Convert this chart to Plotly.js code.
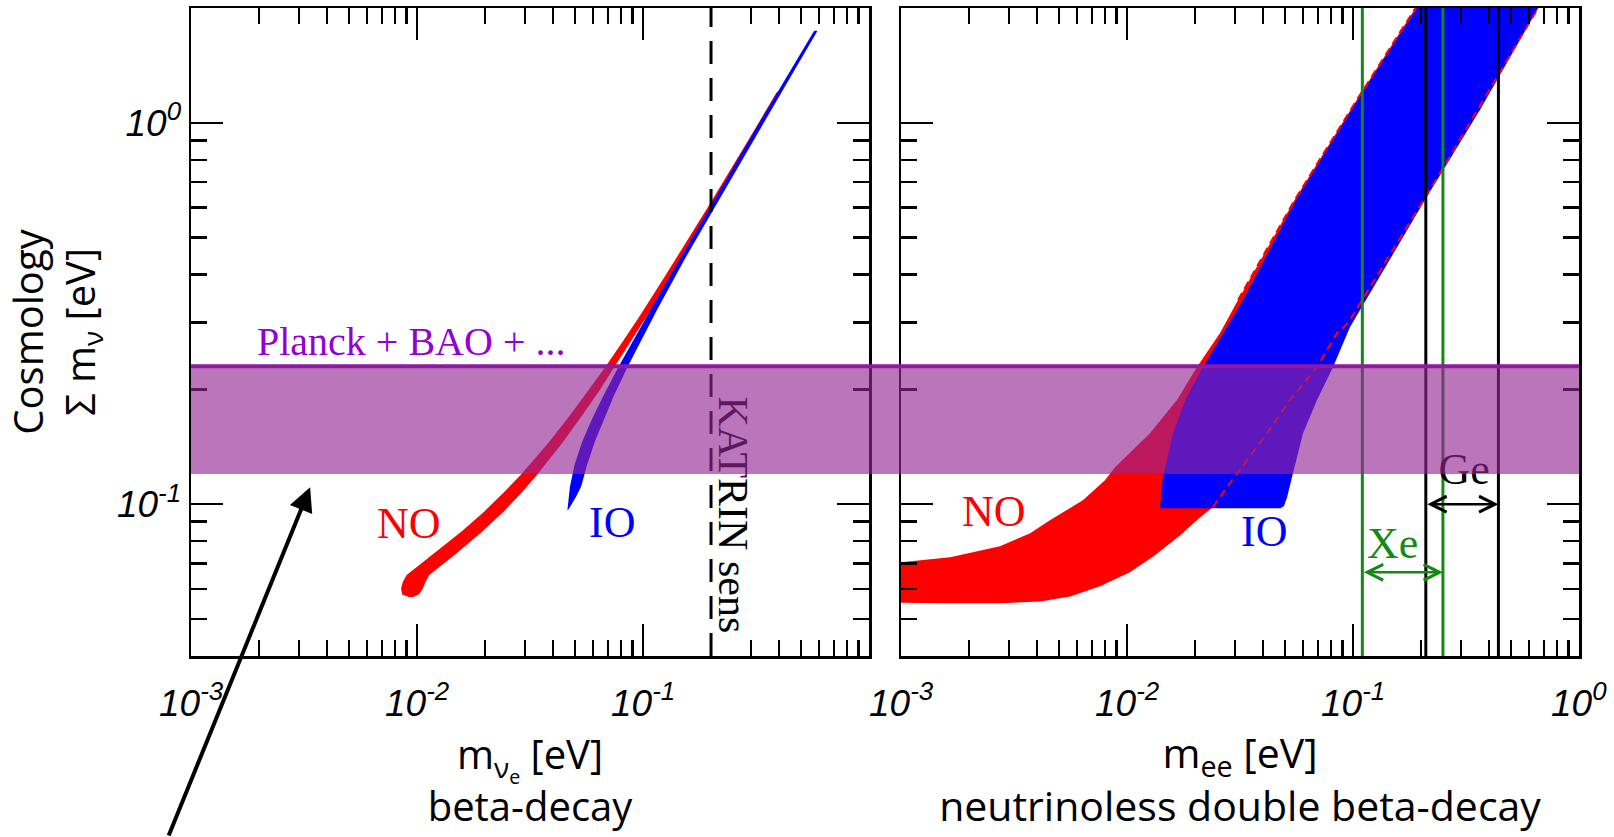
<!DOCTYPE html>
<html><head><meta charset="utf-8">
<script src="https://cdn.plot.ly/plotly-3.0.1.min.js"></script>
<style>html,body{margin:0;padding:0;background:#fff;} #chart{width:1614px;height:837px;}</style>
</head><body><div id="chart"></div>
<script>
// ---------- data ----------
// beta-decay panel: effective electron-neutrino mass (eV) vs sum of masses (eV)
const NO_beta_sum = [0.0571, 0.0580, 0.0600, 0.0625, 0.0652, 0.0695, 0.0742, 0.0845, 0.0956, 0.1073, 0.1195, 0.1449, 0.1715, 0.1987, 0.2266, 0.2691, 0.3122, 0.3996, 0.6064, 0.9043, 1.2040];
const NO_beta_mlo = [0.0092, 0.00860, 0.00850, 0.00865, 0.00900, 0.01030, 0.01193, 0.01565, 0.01981, 0.02419, 0.02881, 0.03817, 0.04774, 0.05744, 0.06727, 0.08203, 0.09687, 0.12626, 0.1953, 0.2934, 0.3910];
const NO_beta_mhi = [0.0096, 0.0102, 0.0106, 0.0109, 0.01133, 0.01297, 0.01488, 0.01934, 0.02415, 0.02908, 0.03400, 0.04402, 0.05406, 0.06415, 0.07409, 0.08912, 0.10427, 0.13467, 0.2054, 0.3072, 0.4094];

const IO_beta_sum = [0.0965, 0.0990, 0.1040, 0.1111, 0.1269, 0.1459, 0.1674, 0.1908, 0.2285, 0.3232, 0.4370, 0.6121, 1.0033, 1.7442];
const IO_beta_mlo = [0.0463, 0.0465, 0.0468, 0.0475, 0.0498, 0.0538, 0.0595, 0.0663, 0.0777, 0.1078, 0.1446, 0.2010, 0.3280, 0.5720];
const IO_beta_mhi = [0.0466, 0.0480, 0.0503, 0.0532, 0.0566, 0.0612, 0.0671, 0.0738, 0.0853, 0.1153, 0.1522, 0.2112, 0.3434, 0.5920];

// neutrinoless double beta-decay panel: m_ee (eV) vs sum of masses (eV)
const NO_dbd_up_mee = [0.0008, 0.00100, 0.00165, 0.00274, 0.00373, 0.00456, 0.00638, 0.00799, 0.00885, 0.01264, 0.01664, 0.0204, 0.0258, 0.0310, 0.0552, 0.1040, 0.189, 0.206];
const NO_dbd_up_sum = [0.0702, 0.0704, 0.0726, 0.0776, 0.0839, 0.0908, 0.1024, 0.1156, 0.125, 0.1535, 0.1875, 0.229, 0.281, 0.343, 0.628, 1.149, 2.0, 2.2];
const NO_dbd_lo_mee = [0.0008, 0.001, 0.00165, 0.00274, 0.00412, 0.0056, 0.0076, 0.0103, 0.0133, 0.0172, 0.0211, 0.0240, 0.0277, 0.0416, 0.0526, 0.0693, 0.0850, 0.0951, 0.252, 0.659, 0.72];
const NO_dbd_lo_sum = [0.0553, 0.0553, 0.0550, 0.0550, 0.0556, 0.0573, 0.0609, 0.0663, 0.0735, 0.0829, 0.0925, 0.0982, 0.1109, 0.1535, 0.1875, 0.229, 0.281, 0.2986, 0.766, 2.0, 2.2];

const IO_dbd_left_mee = [0.0140, 0.01442, 0.0160, 0.0181, 0.0217, 0.0266, 0.0326, 0.0560, 0.1050, 0.192, 0.21];
const IO_dbd_left_sum = [0.0976, 0.1177, 0.1535, 0.1875, 0.229, 0.281, 0.343, 0.628, 1.149, 2.0, 2.2];
const IO_dbd_right_mee = [0.0478, 0.0495, 0.0511, 0.0537, 0.0601, 0.0693, 0.0816, 0.0904, 0.0970, 0.2083, 0.256, 0.365, 0.659, 0.72];
const IO_dbd_right_sum = [0.0976, 0.0990, 0.1043, 0.1177, 0.1535, 0.1875, 0.229, 0.265, 0.2915, 0.628, 0.766, 1.082, 2.0, 2.2];

// NO boundaries are drawn dashed where they run over the IO region
const NO_dash_up_from = 0.30;
const NO_dash_lo_from = 0.098;

// limits / sensitivities
const KATRIN_sens = 0.2;           // eV
const Xe_limits = [0.11, 0.25];    // eV
const Ge_limits = [0.21, 0.44];    // eV
const Cosmo_band = [0.12, 0.23];   // eV
const Xe_arrow_sum = 0.0663;
const Ge_arrow_sum = 0.100;

// axes
const X_RANGE = [0.001, 1];
const Y_RANGE = [0.04, 2.0];
const X_TICKS_LEFT = [0.001, 0.01, 0.1];
const X_TEXT_LEFT = ['10<sup>-3</sup>', '10<sup>-2</sup>', '10<sup>-1</sup>'];
const X_TICKS_RIGHT = [0.001, 0.01, 0.1, 1];
const X_TEXT_RIGHT = ['10<sup>-3</sup>', '10<sup>-2</sup>', '10<sup>-1</sup>', '10<sup>0</sup>'];
const Y_TICKS = [0.1, 1];
const Y_TEXT = ['10<sup>-1</sup>', '10<sup>0</sup>'];
const DIGITS = [2, 3, 4, 5, 6, 7, 8, 9];

// ---------- build ----------
const RED = '#ff0000', BLUE = '#0000ff', GREEN = '#138a13';
const L = Math.log10;
function minorTicks(lo, hi) {
  const out = [];
  for (let e = Math.floor(L(lo)); e <= Math.ceil(L(hi)); e++)
    DIGITS.forEach(d => { const v = d * Math.pow(10, e); if (v > lo && v < hi) out.push(v); });
  return out;
}
function poly(xa, ya, xb, yb) {
  return { x: xa.concat(xb.slice().reverse()), y: ya.concat(yb.slice().reverse()) };
}
function part(xs, ys, from) {
  const x = [], y = [];
  ys.forEach((v, i) => { if (v >= from) { x.push(xs[i]); y.push(v); } });
  return { x, y };
}

const pNOb = poly(NO_beta_mlo, NO_beta_sum, NO_beta_mhi, NO_beta_sum);
const pIOb = poly(IO_beta_mlo, IO_beta_sum, IO_beta_mhi, IO_beta_sum);
const pNOd = poly(NO_dbd_up_mee, NO_dbd_up_sum, NO_dbd_lo_mee, NO_dbd_lo_sum);
const pIOd = poly(IO_dbd_left_mee, IO_dbd_left_sum, IO_dbd_right_mee, IO_dbd_right_sum);
const dUp = part(NO_dbd_up_mee, NO_dbd_up_sum, NO_dash_up_from);
const dLo = part(NO_dbd_lo_mee, NO_dbd_lo_sum, NO_dash_lo_from);

const fillT = (p, col, xa, ya) => ({ type: 'scatter', mode: 'lines', x: p.x, y: p.y, fill: 'toself', fillcolor: col, line: { width: 0, color: col }, xaxis: xa, yaxis: ya, hoverinfo: 'skip', showlegend: false });

const traces = [
  fillT(pNOb, RED, 'x', 'y'),
  fillT(pIOb, BLUE, 'x', 'y'),
  { type: 'scatter', mode: 'lines', x: [KATRIN_sens, KATRIN_sens], y: Y_RANGE, line: { color: 'black', width: 3, dash: '23px,14px' }, xaxis: 'x', yaxis: 'y', showlegend: false },
  fillT(pNOd, RED, 'x2', 'y2'),
  fillT(pIOd, BLUE, 'x2', 'y2'),
  { type: 'scatter', mode: 'lines', x: dUp.x, y: dUp.y, line: { color: RED, width: 2, dash: '8px,5px' }, xaxis: 'x2', yaxis: 'y2', showlegend: false },
  { type: 'scatter', mode: 'lines', x: dLo.x, y: dLo.y, line: { color: RED, width: 2, dash: '8px,5px' }, xaxis: 'x2', yaxis: 'y2', showlegend: false },
  { type: 'scatter', mode: 'lines', x: [Xe_limits[0], Xe_limits[0], null, Xe_limits[1], Xe_limits[1]], y: [Y_RANGE[0], Y_RANGE[1], null, Y_RANGE[0], Y_RANGE[1]], line: { color: GREEN, width: 3 }, xaxis: 'x2', yaxis: 'y2', showlegend: false },
  { type: 'scatter', mode: 'lines', x: [Ge_limits[0], Ge_limits[0], null, Ge_limits[1], Ge_limits[1]], y: [Y_RANGE[0], Y_RANGE[1], null, Y_RANGE[0], Y_RANGE[1]], line: { color: 'black', width: 3 }, xaxis: 'x2', yaxis: 'y2', showlegend: false },
  { type: 'scatter', mode: 'text', x: [Math.sqrt(Ge_limits[0] * Ge_limits[1]) * 1.02], y: [0.121], text: ['Ge'], textposition: 'middle center', textfont: { family: 'Liberation Serif', size: 44, color: 'black' }, xaxis: 'x2', yaxis: 'y2', showlegend: false }
];

const tickFont = { family: 'Liberation Sans', size: 37, color: 'black', style: 'italic' };
const titleFont = { family: 'Open Sans', size: 40, color: 'black' };
function ax(extra) {
  return Object.assign({
    type: 'log', showline: true, linewidth: 2.5, linecolor: 'black', mirror: 'ticks',
    ticks: 'inside', ticklen: 32, tickwidth: 2.5, tickcolor: 'black',
    showgrid: false, zeroline: false, tickmode: 'array', tickfont: tickFont,
  }, extra);
}
const xMinor = { ticks: 'inside', ticklen: 16, tickwidth: 2.5, tickcolor: 'black', tickmode: 'array', tickvals: minorTicks(X_RANGE[0], X_RANGE[1]), showgrid: false };
const yMinor = { ticks: 'inside', ticklen: 16, tickwidth: 2.5, tickcolor: 'black', tickmode: 'array', tickvals: minorTicks(Y_RANGE[0], Y_RANGE[1]), showgrid: false };

const W = 1614, H = 837, ML = 191, MR = 35, MT = 8, MB = 181;
const PW = W - ML - MR;
const leftEnd = (869 - ML) / PW, rightStart = (901 - ML) / PW;

// x tick labels placed below the frame
const xLabelAnn = (vals, texts, xref) => vals.map((v, i) => ({
  xref: xref, yref: 'paper', x: L(v), y: 0, xanchor: 'center', yanchor: 'middle', yshift: -44,
  showarrow: false, text: texts[i], font: tickFont
}));

const layout = {
  width: W, height: H, margin: { l: ML, r: MR, t: MT, b: MB, pad: 0 },
  paper_bgcolor: 'white', plot_bgcolor: 'white', showlegend: false, hovermode: false,
  xaxis: ax({ domain: [0, leftEnd], anchor: 'y', range: [L(X_RANGE[0]), L(X_RANGE[1])], tickvals: X_TICKS_LEFT, ticktext: X_TEXT_LEFT, showticklabels: false, minor: xMinor,
    title: { text: 'm<sub>ν<sub>e</sub></sub> [eV]<br>beta-decay', font: titleFont, standoff: 84 } }),
  xaxis2: ax({ domain: [rightStart, 1], anchor: 'y2', range: [L(X_RANGE[0]), L(X_RANGE[1])], tickvals: X_TICKS_RIGHT, ticktext: X_TEXT_RIGHT, showticklabels: false, minor: xMinor,
    title: { text: 'm<sub>ee</sub> [eV]<br>neutrinoless double beta-decay', font: { family: 'Open Sans', size: 41, color: 'black' }, standoff: 82 } }),
  yaxis: ax({ domain: [0, 1], anchor: 'x', range: [L(Y_RANGE[0]), L(Y_RANGE[1])], tickvals: Y_TICKS, ticktext: Y_TEXT, minor: yMinor,
    title: { text: 'Cosmology<br>Σ m<sub>ν</sub> [eV]', font: titleFont, standoff: 10 } }),
  yaxis2: ax({ domain: [0, 1], anchor: 'x2', range: [L(Y_RANGE[0]), L(Y_RANGE[1])], tickvals: Y_TICKS, ticktext: Y_TEXT, showticklabels: false, minor: yMinor }),
  shapes: [
    { type: 'rect', xref: 'paper', yref: 'y', x0: 0, x1: 1, y0: Cosmo_band[0], y1: Cosmo_band[1], fillcolor: 'rgba(148,38,148,0.635)', line: { width: 0 }, layer: 'above' },
    { type: 'line', xref: 'paper', yref: 'y', x0: 0, x1: 1, y0: Cosmo_band[1], y1: Cosmo_band[1], line: { color: 'rgb(142,26,160)', width: 4 }, layer: 'above' }
  ],
  annotations: [
    ...xLabelAnn(X_TICKS_LEFT, X_TEXT_LEFT, 'x'),
    ...xLabelAnn(X_TICKS_RIGHT, X_TEXT_RIGHT, 'x2'),
    { xref: 'x', yref: 'y', x: L(0.00192), y: L(Cosmo_band[1]), xanchor: 'left', yanchor: 'bottom', yshift: 0, showarrow: false, text: 'Planck + BAO + ...', font: { family: 'Liberation Serif', size: 40, color: '#9400d3' } },
    { xref: 'x', yref: 'y', x: L(0.00923), y: L(0.0891), showarrow: false, text: 'NO', font: { family: 'Liberation Serif', size: 44, color: RED } },
    { xref: 'x', yref: 'y', x: L(0.073), y: L(0.0897), showarrow: false, text: 'IO', font: { family: 'Liberation Serif', size: 44, color: BLUE } },
    { xref: 'x', yref: 'y', x: L(0.25), y: L(0.0935), showarrow: false, textangle: 90, text: '<span style="color:#5e185e">KAT</span>RIN sens', font: { family: 'Liberation Serif', size: 42, color: 'black' } },
    { xref: 'x2', yref: 'y2', x: L(0.00258), y: L(0.0959), showarrow: false, text: 'NO', font: { family: 'Liberation Serif', size: 44, color: RED } },
    { xref: 'x2', yref: 'y2', x: L(0.0404), y: L(0.0850), showarrow: false, text: 'IO', font: { family: 'Liberation Serif', size: 44, color: BLUE } },
    { xref: 'x2', yref: 'y2', x: L(0.149), y: L(0.0790), showarrow: false, text: 'Xe', font: { family: 'Liberation Serif', size: 44, color: GREEN } },
    // double arrows
    { xref: 'x2', yref: 'y2', axref: 'x2', ayref: 'y2', x: L(Xe_limits[1]), y: L(Xe_arrow_sum), ax: L(Xe_limits[0]), ay: L(Xe_arrow_sum), text: '', showarrow: true, arrowside: 'end+start', arrowhead: 5, startarrowhead: 5, arrowsize: 1.25, startarrowsize: 1.25, arrowwidth: 2.5, arrowcolor: GREEN, standoff: 0, startstandoff: 0 },
    { xref: 'x2', yref: 'y2', axref: 'x2', ayref: 'y2', x: L(Ge_limits[1]), y: L(Ge_arrow_sum), ax: L(Ge_limits[0]), ay: L(Ge_arrow_sum), text: '', showarrow: true, arrowside: 'end+start', arrowhead: 5, startarrowhead: 5, arrowsize: 1.25, startarrowsize: 1.25, arrowwidth: 2.5, arrowcolor: 'black', standoff: 0, startstandoff: 0 },
    // big pointer arrow
    { xref: 'x', yref: 'y', x: -2.473, y: -0.9554, ax: -142, ay: 350, text: '', showarrow: true, arrowhead: 2, arrowsize: 1.2, arrowwidth: 4, arrowcolor: 'black', standoff: 0 }
  ]
};

Plotly.newPlot('chart', traces, layout, { staticPlot: true, displayModeBar: false });
</script>
</body></html>
